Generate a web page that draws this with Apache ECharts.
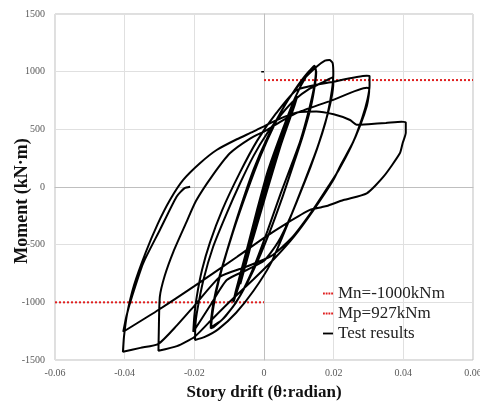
<!DOCTYPE html>
<html><head><meta charset="utf-8">
<script src="https://cdn.jsdelivr.net/npm/echarts@6/dist/echarts.min.js"></script>
<style>html,body{margin:0;padding:0;background:#fff}#c{width:480px;height:403px}</style>
</head><body><div id="c"></div>
<script>
// Tick values
const xTicks = { min: -0.06, max: 0.06, step: 0.02 };
const yTicks = { min: -1500, max: 1500, step: 500 };

// Reference moments
const mnLine = [[-0.06, -1000], [0, -1000]];
const mpLine = [[0, 927], [0.06, 927]];
const smallMark = [[-0.0008, 1000], [0, 1000]];

// Test results: [story drift (rad), moment (kN·m)], per cycle group
const elasticCycles = [
[0,0],[0.002,190],[0.0038,350],[0.003,270],[0.001,80],[-0.001,-140],[-0.0032,-400],[-0.0025,-320],[-0.0005,-80],[0.0015,150],[0.0038,345],[0.003,265],[0.0008,60],[-0.0012,-160],[-0.0032,-395],[-0.0025,-310],[-0.0005,-70],
[0.002,180],[0.005,440],[0.0043,370],[0.0015,100],[-0.0015,-220],[-0.0045,-560],[-0.0038,-470],[-0.001,-130],[0.002,170],[0.0052,450],[0.0045,370],[0.0015,90],[-0.0015,-230],[-0.0047,-570],[-0.004,-480],[-0.001,-140],
[0.002,160],[0.005,420],[0.0075,650],[0.0068,580],[0.004,320],[0.001,20],[-0.002,-290],[-0.0045,-590],[-0.0068,-840],[-0.006,-750],[-0.003,-380],[0,-40],[0.003,260],[0.0075,640],[0.0068,570],[0.004,310],[0.001,10],[-0.002,-300],[-0.0068,-830],[-0.006,-740],[-0.003,-370],[0,-50],
[0.003,250],[0.006,520],[0.0095,790],[0.0088,720],[0.006,480],[0.003,200],[0,-100],[-0.003,-420],[-0.006,-740],[-0.0088,-1000],[-0.008,-900],[-0.005,-560],[-0.002,-200],[0.001,120],[0.004,380],[0.0095,780],[0.0088,710],[0.005,380],[0.001,-20],[-0.003,-430],[-0.0088,-990],[-0.008,-890],[-0.005,-550],[-0.002,-200]
];
const cycle015 = [
[0.001,130],[0.005,470],[0.009,780],[0.0125,980],[0.0145,1052],[0.0149,1010],[0.0144,870],[0.0129,668],[0.0105,408],[0.0077,176],[0.0048,-55],[0.001,-380],[-0.003,-700],[-0.007,-950],[-0.011,-1120],[-0.0145,-1215],[-0.0153,-1225],
[-0.0152,-1150],[-0.0145,-1000],[-0.013,-800],[-0.0105,-540],[-0.007,-200],[-0.003,150],[0.001,430],[0.005,660],[0.009,850],[0.0125,990],[0.0143,1035],[0.015,1000],
[0.0147,900],[0.0135,700],[0.0112,450],[0.0085,200],[0.0055,-70],[0.0015,-400],[-0.003,-720],[-0.008,-1000],[-0.012,-1150],[-0.0152,-1215]
];
const cycle02 = [
[-0.0148,-1100],[-0.0138,-920],[-0.012,-700],[-0.009,-400],[-0.005,-50],[-0.001,270],[0.003,540],[0.007,760],[0.011,920],[0.015,1040],[0.0175,1095],[0.0188,1101],[0.0197,1075],[0.0199,980],
[0.0195,840],[0.0183,640],[0.0167,465],[0.0134,176],[0.0096,-113],[0.0057,-402],[0.002,-660],[-0.003,-900],[-0.008,-1090],[-0.013,-1230],[-0.017,-1300],[-0.0198,-1327],
[-0.0197,-1200],[-0.0193,-1095],[-0.0174,-807],[-0.0146,-518],[-0.0107,-228],[-0.0069,30],[-0.003,270],[0.001,470],[0.005,630],[0.009,760],[0.013,850],[0.017,910],[0.0198,951],
[0.0199,900],[0.0193,760],[0.0178,580],[0.0152,330],[0.0118,60],[0.008,-230],[0.004,-480],[0.0,-640],[-0.005,-720],[-0.0107,-807],[-0.0155,-1030],[-0.0203,-1255]
];
const cycle03 = [
[-0.0200,-1120],[-0.0193,-950],[-0.0178,-720],[-0.0155,-480],[-0.012,-200],[-0.007,120],[-0.002,400],[0.0035,640],[0.0094,841],[0.0199,913],[0.0295,965],[0.0303,962],
[0.0303,880],[0.0297,760],[0.0282,600],[0.0256,390],[0.0222,200],[0.0199,61],[0.0142,-200],[0.0086,-430],[0.003,-620],[-0.003,-800],[-0.01,-1000],[-0.016,-1180],[-0.02,-1300],[-0.025,-1380],[-0.0303,-1420],
[-0.0302,-1250],[-0.0299,-951],[-0.0285,-770],[-0.026,-560],[-0.0225,-320],[-0.0195,-120],[-0.015,90],[-0.0098,292],[-0.004,420],[0.0008,494],[0.0055,580],[0.0103,653],[0.0199,755],[0.0295,860],[0.0302,855],
[0.0301,800],[0.0295,700],[0.0277,540],[0.025,350],[0.0215,150],[0.019,30],[0.014,-200],[0.008,-440],[0.002,-600],[-0.005,-690],[-0.0126,-778],[-0.02,-1030],[-0.025,-1200],[-0.0303,-1360]
];
const cycle04 = [
[-0.0355,-1395],[-0.0405,-1428],
[-0.0402,-1300],[-0.0393,-1100],[-0.0373,-850],[-0.034,-570],[-0.0305,-320],[-0.027,-113],[-0.0232,61],[-0.0184,206],[-0.0136,321],[-0.0078,414],[-0.0031,480],[0.0017,552],[0.006,610],[0.0103,650],[0.015,655],[0.02,630],[0.0247,581],[0.0266,540],[0.03,545],[0.035,555],[0.0395,566],[0.0407,560],[0.0407,470],
[0.0398,380],[0.039,292],[0.0343,89],[0.0295,-55],[0.0228,-113],[0.018,-165],[0.0165,-175],[0.0132,-199],[0.0065,-315],[-0.0002,-445],[-0.0078,-607],[-0.02,-860],[-0.03,-1060],[-0.0404,-1255],
[-0.0395,-1120],[-0.038,-960],[-0.0347,-662],[-0.0299,-373],[-0.0251,-84],[-0.0228,-10],[-0.0212,3]
];
const testResults = [].concat(elasticCycles, cycle015, cycle02, cycle03, cycle04);

const serif = "'Liberation Serif','Times New Roman',serif";
const dottedIcon = 'path://M0,0h2v2h-2z M3,0h2v2h-2z M6,0h2v2h-2z M9,0h2v2h-2z';
const solidIcon = 'path://M0,0h11v2h-11z';
const chart = echarts.init(document.getElementById('c'), null, { renderer: 'canvas' });
chart.setOption({
  animation: false,
  backgroundColor: '#fff',
  grid: { left: 55, right: 7, top: 14, bottom: 43, show: true, borderColor: '#bfbfbf', borderWidth: 1, outerBoundsMode: 'none', containLabel: false },
  xAxis: {
    type: 'value', min: xTicks.min, max: xTicks.max, interval: xTicks.step,
    name: 'Story drift (\u03b8:radian)', nameLocation: 'middle', nameGap: 24,
    nameTextStyle: { fontFamily: serif, fontSize: 17, fontWeight: 'bold', color: '#111' },
    axisLine: { lineStyle: { color: '#bfbfbf' } }, axisTick: { show: false },
    axisLabel: { fontFamily: serif, fontSize: 10, color: '#595959', margin: 8, formatter: v => String(+v.toFixed(2)) },
    splitLine: { lineStyle: { color: '#e0e0e0' } }
  },
  yAxis: {
    type: 'value', min: yTicks.min, max: yTicks.max, interval: yTicks.step,
    axisLine: { show: true, lineStyle: { color: '#bfbfbf' } }, axisTick: { show: false },
    axisLabel: { fontFamily: serif, fontSize: 10, color: '#595959', margin: 10, formatter: v => String(v) },
    splitLine: { lineStyle: { color: '#e0e0e0' } }
  },
  graphic: [{
    type: 'text', x: 22, y: 201, rotation: Math.PI / 2,
    style: { text: 'Moment (kN\u00b7m)', font: "bold 18px 'Liberation Serif','Times New Roman',serif", fill: '#111', textAlign: 'center', textVerticalAlign: 'middle' }
  }],
  legend: {
    orient: 'vertical', left: 323, top: 285, padding: 0, itemWidth: 10, itemHeight: 2, itemGap: 3,
    textStyle: { fontFamily: serif, fontSize: 17, color: '#222', lineHeight: 17 },
    data: [
      { name: 'Mn=-1000kNm', icon: dottedIcon },
      { name: 'Mp=927kNm', icon: dottedIcon },
      { name: 'Test results', icon: solidIcon }
    ]
  },
  series: [
    { name: 'Mn=-1000kNm', type: 'line', data: mnLine, symbol: 'none', lineStyle: { color: '#e02020', width: 2, type: [2, 2] }, itemStyle: { color: '#e02020' }, z: 3 },
    { name: 'Mp=927kNm', type: 'line', data: mpLine, symbol: 'none', lineStyle: { color: '#e02020', width: 2, type: [2, 2] }, itemStyle: { color: '#e02020' }, z: 3 },
    { name: 'Test results', type: 'line', data: testResults, symbol: 'none', smooth: 0.2, lineStyle: { color: '#000', width: 2 }, itemStyle: { color: '#000' }, z: 4 },
    { name: 'mark', type: 'line', data: smallMark, symbol: 'none', lineStyle: { color: '#000', width: 1.5 }, z: 4 }
  ]
});
</script></body></html>
